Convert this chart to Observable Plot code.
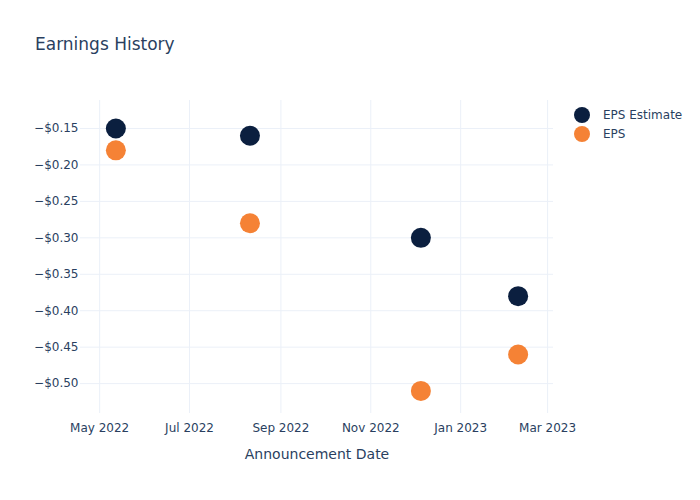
<!DOCTYPE html>
<html>
<head>
<meta charset="utf-8">
<script src="https://cdn.jsdelivr.net/npm/d3@7"></script>
<script src="https://cdn.jsdelivr.net/npm/@observablehq/plot@0.6"></script>
<style>
  html, body { margin: 0; padding: 0; background: #fff; }
  #wrap { position: relative; width: 700px; height: 500px; font-family: "DejaVu Sans", Verdana, sans-serif; color: #2a3f5f; }
  #title { position: absolute; left: 35px; top: 34px; font-size: 17px; color: #2a3f5f; }
  #legend { position: absolute; left: 574px; top: 105px; font-size: 12px; color: #2a3f5f; }
  .item { display: flex; align-items: center; height: 19px; }
  .sw { width: 16px; height: 16px; border-radius: 50%; margin-right: 13px; }
</style>
</head>
<body>
<div id="wrap">
  <div id="chart"></div>
  <div id="title">Earnings History</div>
  <div id="legend"></div>
</div>
<script>
const dates = ["2022-05-12", "2022-08-11", "2022-12-05", "2023-02-09"];
const epsEstimate = [-0.15, -0.16, -0.30, -0.38];
const epsActual = [-0.18, -0.28, -0.51, -0.46];
const seriesNames = ["EPS Estimate", "EPS"];
const seriesColors = ["#0b1f3f", "#f58235"];
const xTickDates = ["2022-05-01", "2022-07-01", "2022-09-01", "2022-11-01", "2023-01-01", "2023-03-01"];
const yTicks = [-0.15, -0.20, -0.25, -0.30, -0.35, -0.40, -0.45, -0.50];

const rows = [];
dates.forEach((d, i) => {
  rows.push({date: new Date(d), value: epsEstimate[i], series: seriesNames[0]});
});
dates.forEach((d, i) => {
  rows.push({date: new Date(d), value: epsActual[i], series: seriesNames[1]});
});
const xt = xTickDates.map(d => new Date(d));
const fmtY = v => (v < 0 ? "\u2212" : "") + "$" + Math.abs(v).toFixed(2);

const chart = Plot.plot({
  width: 700,
  height: 500,
  marginLeft: 80,
  marginRight: 147,
  marginTop: 100,
  marginBottom: 87,
  style: {fontFamily: '"DejaVu Sans", Verdana, sans-serif', fontSize: "12px", color: "#2a3f5f", background: "transparent"},
  x: {type: "utc", domain: [new Date("2022-04-18T00:00:00Z"), new Date("2023-03-05")]},
  y: {domain: [-0.541, -0.1116]},
  color: {domain: seriesNames, range: seriesColors},
  marks: [
    Plot.gridX(xt, {stroke: "#ebf0f8", strokeOpacity: 1, strokeWidth: 1}),
    Plot.gridY(yTicks, {stroke: "#ebf0f8", strokeOpacity: 1, strokeWidth: 1}),
    Plot.dot(rows, {x: "date", y: "value", fill: "series", r: 10}),
    Plot.axisX(xt, {tickSize: 0, tickPadding: 10, tickFormat: d3.utcFormat("%b %Y"), fontSize: 12,
      label: "Announcement Date", labelAnchor: "center", labelArrow: false, labelOffset: 45}),
    Plot.axisY(yTicks, {tickSize: 0, tickPadding: 2, tickFormat: fmtY, label: null, fontSize: 12})
  ]
});
document.getElementById("chart").appendChild(chart);
d3.select(chart).selectAll("[aria-label='x-axis label'] text, [aria-label='x-axis label']").style("font-size", "14px");

const legend = document.getElementById("legend");
seriesNames.forEach((n, i) => {
  const it = document.createElement("div");
  it.className = "item";
  const sw = document.createElement("span");
  sw.className = "sw";
  sw.style.background = seriesColors[i];
  const tx = document.createElement("span");
  tx.textContent = n;
  it.appendChild(sw); it.appendChild(tx);
  legend.appendChild(it);
});
</script>
</body>
</html>
